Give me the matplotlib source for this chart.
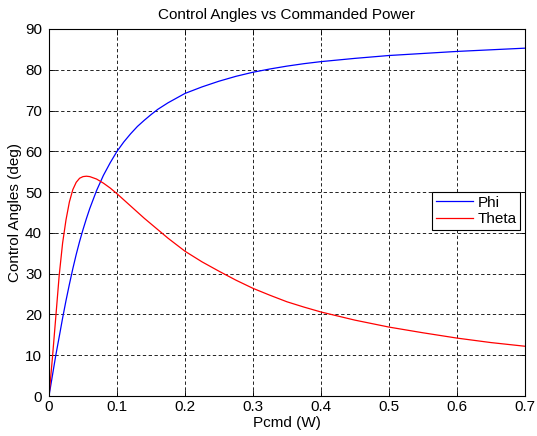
import numpy as np
import matplotlib
matplotlib.use('Agg')
import matplotlib.pyplot as plt

# values
pcmd = [0, 0.005, 0.01, 0.015, 0.02, 0.025, 0.03, 0.035, 0.04, 0.045, 0.05,
        0.055, 0.06, 0.07, 0.08, 0.09, 0.1, 0.11, 0.12, 0.13, 0.14, 0.15,
        0.16, 0.175, 0.2, 0.225, 0.25, 0.275, 0.3, 0.325, 0.35, 0.375,
        0.4, 0.45, 0.5, 0.55, 0.6, 0.65, 0.7]
phi = [0, 5, 10, 14.5, 19.1, 23.4, 27.4, 31.2, 34.7, 37.9, 40.8,
       43.5, 46, 50.4, 54.1, 57.2, 60, 62.3, 64.3, 66.1, 67.6, 69.0,
       70.3, 71.9, 74.2, 75.8, 77.2, 78.4, 79.4, 80.2, 80.9, 81.5,
       82.0, 82.8, 83.5, 84.0, 84.5, 84.9, 85.3]
theta = [0, 9.3, 19.4, 29.6, 37.5, 43.2, 47.6, 50.6, 52.4, 53.4, 53.8,
         53.9, 53.8, 53.2, 52.2, 51, 49.6, 48.1, 46.6, 45.1, 43.6, 42.2,
         40.8, 38.7, 35.5, 32.9, 30.6, 28.4, 26.4, 24.7, 23.1, 21.8,
         20.6, 18.6, 16.9, 15.5, 14.2, 13.1, 12.2]

x_ticks = [0, 0.1, 0.2, 0.3, 0.4, 0.5, 0.6, 0.7]
x_labels = ['0', '0.1', '0.2', '0.3', '0.4', '0.5', '0.6', '0.7']
y_ticks = [0, 10, 20, 30, 40, 50, 60, 70, 80, 90]

plt.rcParams['font.family'] = ['Liberation Sans', 'DejaVu Sans']
fs = 11

fig = plt.figure(figsize=(5.37, 4.36), dpi=100)
ax = fig.add_axes([49/537, 40/436, 476/537, 367/436])

ax.plot(pcmd, phi, color='b', lw=0.9, label='Phi')
ax.plot(pcmd, theta, color='r', lw=0.9, label='Theta')

ax.set_xlim(0, 0.7)
ax.set_ylim(0, 90)
ax.set_xticks(x_ticks)
ax.set_xticklabels(x_labels)
ax.set_yticks(y_ticks)

# MATLAB style dashed grid, ticks inside on every side
ax.grid(True, color='k', linestyle=(0, (4, 3)), linewidth=0.6)
ax.tick_params(direction='in', top=True, right=True, length=4, width=0.6,
               labelsize=fs, pad=3)
ax.tick_params(axis='y', pad=5)
for s in ax.spines.values():
    s.set_linewidth(0.8)

ax.set_title('Control Angles vs Commanded Power', fontsize=fs, pad=7)
ax.set_xlabel('Pcmd (W)', fontsize=fs, labelpad=1)
ax.set_ylabel('Control Angles (deg)', fontsize=fs, labelpad=2)

leg = ax.legend(loc='upper right', bbox_to_anchor=(0.99, 0.556), fontsize=fs,
                fancybox=False, framealpha=1, edgecolor='k', handlelength=2.4,
                borderpad=0.25, labelspacing=0.15, handletextpad=0.3,
                borderaxespad=0)
leg.get_frame().set_linewidth(0.8)

plt.savefig('out.png', dpi=100)
